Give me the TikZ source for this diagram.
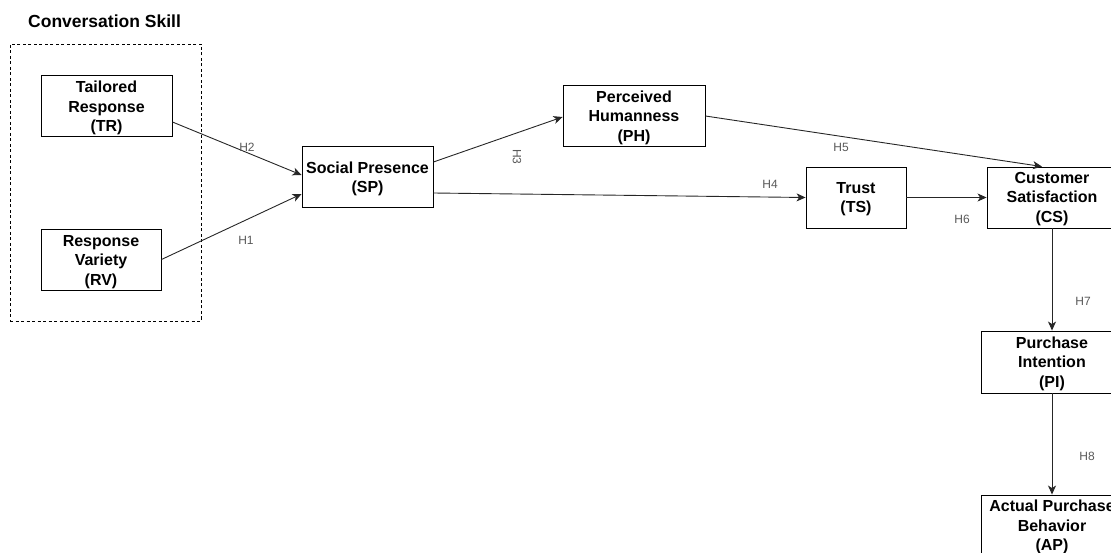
\documentclass[tikz,border=0pt]{standalone}
\usepackage{fontspec}
\setmainfont{Liberation Sans}
\usetikzlibrary{arrows.meta}
\begin{document}
\begin{tikzpicture}[x=1pt,y=-1pt,
  box/.style={draw=black, line width=0.9pt, rectangle, inner sep=0pt, minimum height=61pt},
  boxtext/.style={inner sep=0pt, align=center, font=\fontsize{16}{19.5}\selectfont\bfseries},
  conn/.style={draw=black!85, line width=0.9pt, -{Stealth[length=9pt,width=8pt,inset=2.5pt]}},
  hlabel/.style={text=black!65, font=\fontsize{12}{14}\selectfont, inner sep=0pt},
  group/.style={draw=black, line width=0.8pt, dash pattern=on 3pt off 2.5pt}]
\useasboundingbox (0,0) rectangle (1111,553);
\begin{scope}
\clip (0,0) rectangle (1111,553);
\node[anchor=base west, inner sep=0pt, font=\fontsize{17.5}{20}\selectfont\bfseries] (title) at (28,28) {Conversation Skill};
\node[group, minimum width=191pt, minimum height=277pt, inner sep=0pt] (grp) at (105.5,182.5) {};
\node[box, minimum width=131pt] (TR) at (106.5,105.5) {};
\node[box, minimum width=120pt] (RV) at (101,259.5) {};
\node[box, minimum width=131pt] (SP) at (367.5,177) {};
\node[box, minimum width=142pt] (PH) at (634,116) {};
\node[box, minimum width=100pt] (TS) at (856,197.5) {};
\node[box, minimum width=130pt] (CS) at (1052,197.5) {};
\node[box, minimum width=142pt, minimum height=62pt] (PI) at (1052,362) {};
\node[box, minimum width=142pt] (AP) at (1052,525.5) {};

\node[boxtext] (TRt) at ([yshift=-2.5pt]TR.center) {Tailored\\Response\\(TR)};
\node[boxtext] (RVt) at ([yshift=-2.5pt]RV.center) {Response\\Variety\\(RV)};
\node[boxtext] (SPt) at ([yshift=-2pt]SP.center) {Social Presence\\(SP)};
\node[boxtext] (PHt) at ([yshift=-1.5pt]PH.center) {Perceived\\Humanness\\(PH)};
\node[boxtext] (TSt) at ([yshift=-1.5pt]TS.center) {Trust\\(TS)};
\node[boxtext] (CSt) at ([yshift=-1.5pt]CS.center) {Customer\\Satisfaction\\(CS)};
\node[boxtext] (PIt) at ([yshift=-1.5pt]PI.center) {Purchase\\Intention\\(PI)};
\node[boxtext] (APt) at ([yshift=-1.5pt]AP.center) {Actual Purchase\\Behavior\\(AP)};

\draw[conn] ([yshift=-16.5pt]TR.east) -- ([yshift=2pt]SP.west);
\draw[conn] (RV.east) -- ([yshift=-17pt]SP.west);
\draw[conn] ([yshift=15pt]SP.east) -- ([yshift=-1pt]PH.west);
\draw[conn] ([yshift=-16pt]SP.east) -- (TS.west);
\draw[conn] (PH.east) -- ([xshift=-10pt]CS.north);
\draw[conn] (TS.east) -- (CS.west);
\draw[conn] (CS.south) -- (PI.north);
\draw[conn] (PI.south) -- (AP.north);

\node[hlabel] (h2) at (247,147) {H2};
\node[hlabel] (h1) at (246,240) {H1};
\node[hlabel, rotate=-90] (h3) at (517,157) {H3};
\node[hlabel] (h4) at (770,184) {H4};
\node[hlabel] (h5) at (841,147) {H5};
\node[hlabel] (h6) at (962,219) {H6};
\node[hlabel] (h7) at (1083,301) {H7};
\node[hlabel] (h8) at (1087,456) {H8};
\end{scope}
\end{tikzpicture}
\end{document}
